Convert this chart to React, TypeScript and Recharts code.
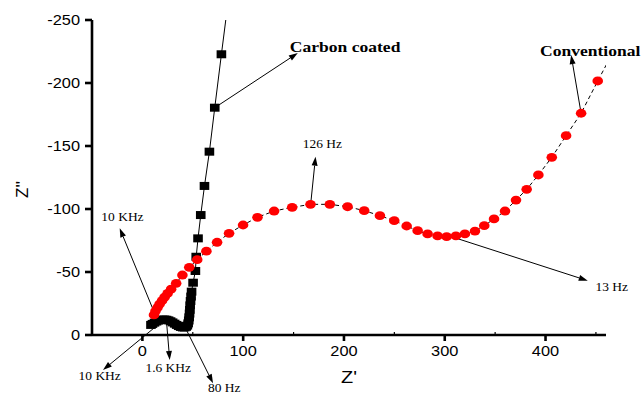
import { ScatterChart, Scatter, XAxis, YAxis, ReferenceLine, ReferenceDot } from 'recharts';

// Nyquist data: [Z', Z''] (Z'' kept negative, axis is reversed)
const carbonCoated: [number, number][] = [
  [8.5, -8], [10, -8.8], [12, -9.8], [14, -10.7], [16, -11.4], [18, -11.9], [20, -12.2],
  [22, -12.3], [24, -12.1], [26, -11.6], [28, -10.9], [30, -10], [32, -9], [34, -8],
  [36, -7.1], [38, -6.4], [40, -6], [42, -6], [43.5, -6.5], [44.6, -7.5], [45.4, -9.2],
  [46, -11.5], [46.4, -14], [46.8, -17], [47.1, -20], [47.4, -23.5], [47.8, -27],
  [48.3, -30.5], [48.8, -34.4], [50.3, -41.5], [52.6, -50.8], [53.4, -62.1], [55.2, -76.7],
  [57.9, -95.2], [61.6, -118.3], [66.5, -145.5], [71.8, -180.4], [78.4, -222.8], [84, -258],
];

const conventional: [number, number][] = [
  [11.5, -15.9], [13, -19], [15, -21.8], [17, -24.5], [19.5, -27.2], [22, -30], [25, -33],
  [28.5, -36.4], [33.5, -41], [39.7, -47.6], [46.5, -53.7], [54.4, -59.8], [63.5, -66.5],
  [74.1, -73.6], [86, -80.7], [99.9, -87.3], [114.2, -93.4], [130.7, -98.4], [148.6, -101.3],
  [166.8, -103.7], [186, -103.7], [203.6, -101.8], [220.1, -98.7], [235.7, -94.7],
  [249.9, -90.7], [262.2, -86.5], [273.1, -82.8], [283, -80.2], [292.9, -78.6], [301.9, -78],
  [311.1, -78.6], [320, -80.2], [330, -82.5], [339.2, -86.8], [348.9, -92.1], [359.8, -98.4],
  [370.7, -107.1], [381.3, -115.6], [392.9, -127], [406.2, -141], [420.4, -158.2],
  [435.3, -176], [451.8, -201.6], [462, -217],
];

const xTicks = [0, 50, 100, 150, 200, 250, 300, 350, 400, 450];
const yTicks = [0, -50, -100, -150, -200, -250];
const X_MIN = -50;
const X_MAX = 460;
const Y_MIN = -250;

// annotation arrows in data units: [fromX, fromY, toX, toY]
const arrows: [number, number, number, number][] = [
  [71.8, -180.4, 154.2, -223.8],
  [435.3, -176, 425.4, -222.2],
  [167, -104, 171.8, -141.5],
  [11.5, -18.5, -22.5, -84.7],
  [311.8, -76.7, 441.9, -43.1],
  [13.9, -7.1, -39.1, 27.8],
  [23.8, -11.9, 27.1, 19.8],
  [43.7, -4, 70.1, 38.3],
];

const notes: { text: string; x: number; y: number; bold?: boolean }[] = [
  { text: 'Carbon coated', x: 146.3, y: -224.6, bold: true },
  { text: 'Conventional', x: 394.5, y: -221.8, bold: true },
  { text: '126 Hz', x: 159.2, y: -148.4 },
  { text: '10 KHz', x: -40.7, y: -90.5 },
  { text: '13 Hz', x: 449.5, y: -34.9 },
  { text: '10 KHz', x: -63.3, y: 35.7 },
  { text: '1.6 KHz', x: 3, y: 29.4 },
  { text: '80 Hz', x: 65.1, y: 45.6 },
];

const toPoints = (rows: [number, number][]) => rows.map(([x, y]) => ({ x, y }));

const SANS = '"Liberation Sans", Arial, sans-serif';
const SERIF = '"Liberation Serif", "Times New Roman", serif';
const STRETCH = 1.17;
const AXIS_W = 2.6;

const inRange = (p: any) => p && p.x <= X_MAX && p.y >= Y_MIN;

const Square = (props: any) => {
  const { cx, cy, payload } = props;
  if (cx == null || !inRange(payload)) return <g />;
  return <rect x={cx - 4.8} y={cy - 4} width={9.6} height={8} fill="#000" />;
};

const Dot = (props: any) => {
  const { cx, cy, payload } = props;
  if (cx == null || !inRange(payload)) return <g />;
  return <ellipse cx={cx} cy={cy} rx={5.3} ry={4.4} fill="#ff0000" />;
};

const Arrow = (props: any) => {
  const { x1, y1, x2, y2 } = props;
  if ([x1, y1, x2, y2].some((v) => v == null || isNaN(v))) return <g />;
  const a = Math.atan2(y2 - y1, x2 - x1);
  const len = 9;
  const half = 3;
  const bx = x2 - len * Math.cos(a);
  const by = y2 - len * Math.sin(a);
  const pts = `${x2},${y2} ${bx + half * Math.sin(a)},${by - half * Math.cos(a)} ${bx - half * Math.sin(a)},${by + half * Math.cos(a)}`;
  return (
    <g>
      <line x1={x1} y1={y1} x2={bx} y2={by} stroke="#000" strokeWidth={1} />
      <polygon points={pts} fill="#000" />
    </g>
  );
};

const XTick = (props: any) => {
  const { x, y, payload } = props;
  const axisY = y - 6 - 4;
  const major = payload.value % 100 === 0;
  if (!major) {
    return <line x1={x} x2={x} y1={axisY} y2={axisY - 3} stroke="#000" strokeWidth={1.2} />;
  }
  return (
    <g>
      <line x1={x} x2={x} y1={axisY} y2={axisY + 6} stroke="#000" strokeWidth={AXIS_W} />
      <text
        transform={`translate(${x},${y}) scale(${STRETCH},1)`}
        textAnchor="middle"
        dy="0.75em"
        fontSize={14}
        fontFamily={SANS}
        fill="#000"
      >
        {payload.value}
      </text>
    </g>
  );
};

const YTick = (props: any) => {
  const { x, y, payload } = props;
  return (
    <text
      transform={`translate(${x},${y}) scale(${STRETCH},1)`}
      textAnchor="end"
      dy="0.36em"
      fontSize={14}
      fontFamily={SANS}
      fill="#000"
    >
      {payload.value}
    </text>
  );
};

const XTitle = ({ viewBox }: any) => (
  <text
    transform={`translate(${viewBox.x + viewBox.width / 2},${viewBox.y + 48}) scale(${STRETCH},1)`}
    textAnchor="middle"
    fontSize={17}
    fontFamily={SANS}
    fill="#000"
  >
    Z'
  </text>
);

const YTitle = ({ viewBox }: any) => (
  <text
    transform={`translate(${viewBox.x - 4},${viewBox.y + viewBox.height / 2 + 12}) rotate(-90)`}
    textAnchor="middle"
    fontSize={17}
    fontFamily={SANS}
    fill="#000"
  >
    Z''
  </text>
);

export default function App() {
  return (
    <div style={{ position: 'absolute', left: 0, top: 0, background: '#fff' }}>
      <ScatterChart width={641} height={396} margin={{ top: 20, right: 35, bottom: 21, left: 32 }}>
        <XAxis
          type="number"
          dataKey="x"
          domain={[X_MIN, X_MAX]}
          ticks={xTicks}
          interval={0}
          allowDataOverflow
          height={40}
          tickSize={6}
          tickMargin={4}
          tickLine={false}
          axisLine={{ stroke: '#000', strokeWidth: AXIS_W }}
          tick={<XTick />}
          label={{ content: <XTitle /> }}
        />
        <YAxis
          type="number"
          dataKey="y"
          domain={[Y_MIN, 0]}
          reversed
          ticks={yTicks}
          interval={0}
          allowDataOverflow
          width={60}
          tickSize={7}
          tickMargin={5}
          tickLine={{ stroke: '#000', strokeWidth: AXIS_W }}
          axisLine={{ stroke: '#000', strokeWidth: AXIS_W }}
          tick={<YTick />}
          label={{ content: <YTitle /> }}
        />
        <Scatter
          name="Carbon coated"
          data={toPoints(carbonCoated)}
          line={{ stroke: '#000', strokeWidth: 1 }}
          lineType="joint"
          shape={<Square />}
          isAnimationActive={false}
        />
        <Scatter
          name="Conventional"
          data={toPoints(conventional)}
          line={{ stroke: '#000', strokeWidth: 1, strokeDasharray: '4 3' }}
          lineType="joint"
          shape={<Dot />}
          isAnimationActive={false}
        />
        {arrows.map(([ax, ay, bx, by], i) => (
          <ReferenceLine
            key={`a${i}`}
            segment={[{ x: ax, y: ay }, { x: bx, y: by }]}
            ifOverflow="visible"
            shape={<Arrow />}
          />
        ))}
        {notes.map((n, i) => (
          <ReferenceDot
            key={`n${i}`}
            x={n.x}
            y={n.y}
            r={0}
            ifOverflow="visible"
            shape={(p: any) => (
              <text
                transform={`translate(${p.cx},${p.cy}) scale(${STRETCH},1)`}
                fontSize={n.bold ? 15 : 11.5}
                fontWeight={n.bold ? 'bold' : 'normal'}
                fontFamily={SERIF}
                fill="#000"
              >
                {n.text}
              </text>
            )}
          />
        ))}
      </ScatterChart>
    </div>
  );
}
